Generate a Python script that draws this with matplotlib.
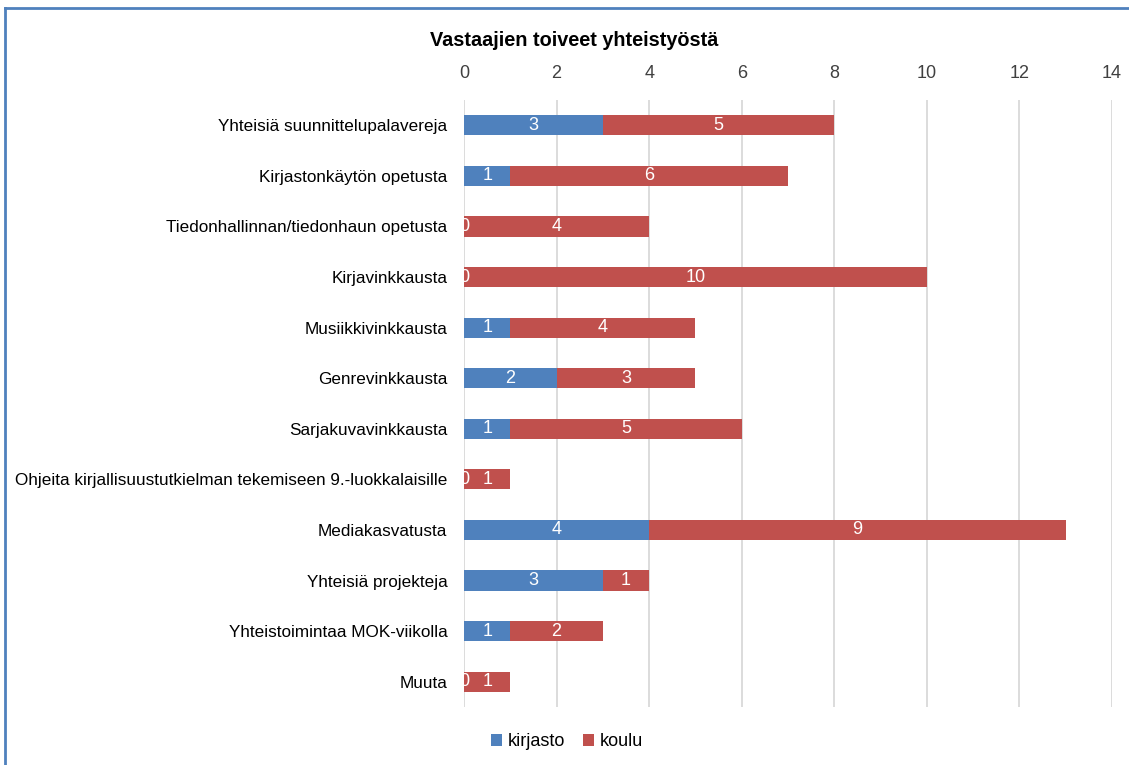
import matplotlib
matplotlib.use("Agg")
import matplotlib.pyplot as plt

categories = [
    "Yhteisiä suunnittelupalavereja",
    "Kirjastonkäytön opetusta",
    "Tiedonhallinnan/tiedonhaun opetusta",
    "Kirjavinkkausta",
    "Musiikkivinkkausta",
    "Genrevinkkausta",
    "Sarjakuvavinkkausta",
    "Ohjeita kirjallisuustutkielman tekemiseen 9.-luokkalaisille",
    "Mediakasvatusta",
    "Yhteisiä projekteja",
    "Yhteistoimintaa MOK-viikolla",
    "Muuta",
]
kirjasto = [3, 1, 0, 0, 1, 2, 1, 0, 4, 3, 1, 0]
koulu = [5, 6, 4, 10, 4, 3, 5, 1, 9, 1, 2, 1]
series_names = ["kirjasto", "koulu"]
xticks = [0, 2, 4, 6, 8, 10, 12, 14]

plt.rcParams['font.family'] = ['Liberation Sans', 'DejaVu Sans']
blue = "#4F81BD"
red = "#C0504D"

fig = plt.figure(figsize=(11.29, 7.65), dpi=100)
ax = fig.add_axes([464/1129, 1-707/765, (1112-464)/1129, (707-100)/765])

y = list(range(len(categories)))
h = 0.4
b1 = ax.barh(y, kirjasto, height=h, color=blue, label=series_names[0], zorder=3)
b2 = ax.barh(y, koulu, left=kirjasto, height=h, color=red, label=series_names[1], zorder=3)

for i in range(len(categories)):
    ax.text(kirjasto[i]/2, i, str(kirjasto[i]), color="white", ha="center", va="center",
            fontsize=13, zorder=4, clip_on=True)
    ax.text(kirjasto[i] + koulu[i]/2, i, str(koulu[i]), color="white", ha="center", va="center",
            fontsize=13, zorder=4, clip_on=True)

ax.set_xlim(0, 14)
ax.set_ylim(len(categories)-0.5, -0.5)
ax.set_xticks(xticks)
ax.xaxis.tick_top()
ax.tick_params(axis="x", length=0, pad=13, labelsize=13, labelcolor="#404040")
ax.set_yticks(y)
ax.set_yticklabels(categories, fontsize=12.3)
ax.tick_params(axis="y", length=0, pad=12)
ax.grid(axis="x", color="#D9D9D9", linewidth=1.3, zorder=0)
for s in ax.spines.values():
    s.set_visible(False)

fig.text(574/1129, 1-40/765, "Vastaajien toiveet yhteistyöstä", ha="center", va="center",
         fontsize=14.3, fontweight="bold")

leg = fig.legend(handles=[b1, b2], labels=series_names, loc="center", bbox_to_anchor=(567/1129, 1-742/765),
                 ncol=2, frameon=False, fontsize=13, handlelength=0.6, handleheight=0.6,
                 handletextpad=0.3, columnspacing=1.0)

# figure border (blue, top and left)
fig.add_artist(plt.Line2D([5/1129, 1], [1-8/765, 1-8/765], transform=fig.transFigure, color=blue, linewidth=2))
fig.add_artist(plt.Line2D([5/1129, 5/1129], [0, 1-8/765], transform=fig.transFigure, color=blue, linewidth=2))

fig.savefig("out.png", dpi=100)
